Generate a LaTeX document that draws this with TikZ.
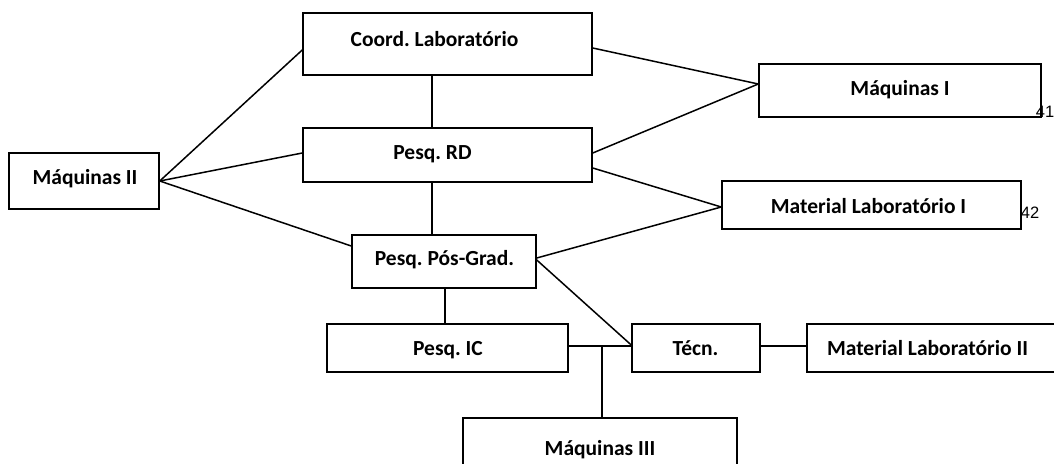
\documentclass[tikz,border=0pt]{standalone}
\usepackage{fontspec}
\setmainfont{Carlito}
\newfontfamily\numfont{Liberation Sans}
\frenchspacing
\begin{document}
\begin{tikzpicture}[x=1pt,y=-1pt,
  box/.style={draw=black,line width=1.5pt,rectangle,inner sep=0pt,minimum width=#1},
  lbl/.style={font=\fontsize{21.5}{25}\selectfont\bfseries,inner sep=0pt,anchor=base},
  num/.style={font=\numfont\fontsize{16.5}{18}\selectfont,inner sep=0pt,anchor=base},
  conn/.style={draw=black,line width=1.5pt}]
\useasboundingbox (0,0) rectangle (1054,463);
\clip (0,0) rectangle (1054,463);
% page-number labels
\node[num] (n41) at (1045,117) {41};
\node[num] (n42) at (1030,218) {42};
% boxes
\node[box=289pt,minimum height=62pt] (coord) at (447.5,44) {};
\node[box=289pt,minimum height=54pt] (rd) at (447.5,155) {};
\node[box=150pt,minimum height=56pt] (m2) at (84,181) {};
\node[box=184pt,minimum height=53pt] (pg) at (444,261.5) {};
\node[box=282pt,minimum height=53pt] (m1) at (900,90.5) {};
\node[box=299pt,minimum height=48pt] (ml1) at (871.5,205) {};
\node[box=241pt,minimum height=48pt] (ic) at (447.5,348) {};
\node[box=128pt,minimum height=48pt] (tecn) at (696,348) {};
\node[box=250pt,minimum height=48pt] (ml2) at (932,348) {};
\node[box=274pt,minimum height=62pt] (m3) at (600,449) {};
% texts
\node[lbl] (tcoord) at (434.5,46) {Coord. Laboratório};
\node[lbl] (trd) at (432.5,159) {Pesq. RD};
\node[lbl] (tm2) at (85,184) {Máquinas II};
\node[lbl] (tpg) at (444.5,265.5) {Pesq. Pós-Grad.};
\node[lbl] (tm1) at (900,95) {Máquinas I};
\node[lbl] (tml1) at (868.5,213) {Material Laboratório I};
\node[lbl] (tic) at (448,355) {Pesq. IC};
\node[lbl] (ttecn) at (695.5,355) {Técn.};
\node[lbl] (tml2) at (927.5,355) {Material Laboratório II};
\node[lbl] (tm3) at (600,455) {Máquinas III};
% connectors
\draw[conn] (m2.east) -- ([yshift=-6pt]coord.west);
\draw[conn] (m2.east) -- ([yshift=2pt]rd.west);
\draw[conn] (m2.east) -- ([yshift=15.5pt]pg.west);
\draw[conn] ([xshift=-15.5pt]coord.south) -- ([xshift=-15.5pt]rd.north);
\draw[conn] ([xshift=-15.5pt]rd.south) -- ([xshift=-15.5pt]rd.south |- pg.north);
\draw[conn] ([xshift=1pt]pg.south) -- ([xshift=1pt]pg.south |- ic.north);
\draw[conn] ([yshift=-4pt]coord.east) -- ([yshift=6.5pt]m1.west);
\draw[conn] ([yshift=2pt]rd.east) -- ([yshift=6.5pt]m1.west);
\draw[conn] ([yshift=-13pt]rd.east) -- ([yshift=-2pt]ml1.west);
\draw[conn] ([yshift=3.5pt]pg.east) -- ([yshift=-2pt]ml1.west);
\draw[conn] ([yshift=1.5pt]pg.east) -- ([yshift=3pt]tecn.west);
\coordinate (j) at (602,346);
\draw[conn] ([yshift=2pt]ic.east) -- ([yshift=2pt]tecn.west);
\draw[conn] (j) -- (j |- m3.north);
\draw[conn] ([yshift=2pt]tecn.east) -- ([yshift=2pt]ml2.west);
\end{tikzpicture}
\end{document}
